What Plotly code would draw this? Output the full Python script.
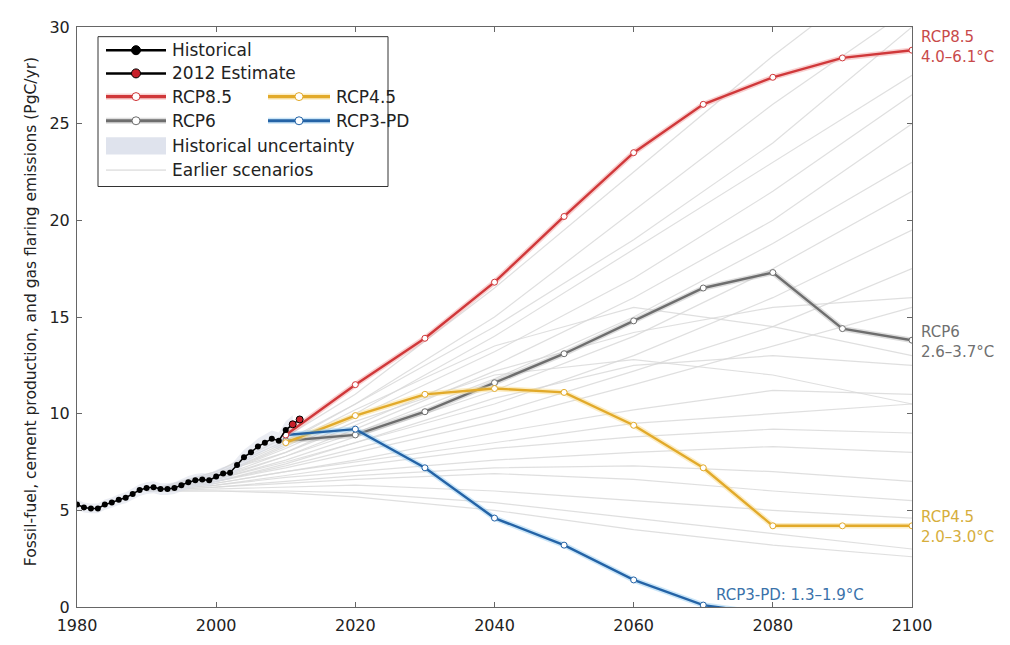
import plotly.graph_objects as go

# ---------------- data ----------------
hist_years = list(range(1980, 2012))
hist_values = [5.30, 5.15, 5.10, 5.10, 5.30, 5.40, 5.55, 5.65, 5.85, 6.05,
               6.15, 6.20, 6.10, 6.10, 6.15, 6.30, 6.45, 6.55, 6.60, 6.55,
               6.75, 6.90, 6.95, 7.35, 7.75, 8.00, 8.30, 8.50, 8.70, 8.60,
               9.15, 9.45]
est_years = [2011, 2012]
est_values = [9.45, 9.70]
hist_uncertainty_pct = 5.0

rcp_years = [2010, 2020, 2030, 2040, 2050, 2060, 2070, 2080, 2090, 2100]
rcp85 = [8.9, 11.5, 13.9, 16.8, 20.2, 23.5, 26.0, 27.4, 28.4, 28.8]
rcp6 = [8.6, 8.9, 10.1, 11.6, 13.1, 14.8, 16.5, 17.3, 14.4, 13.8]
rcp45 = [8.5, 9.9, 11.0, 11.3, 11.1, 9.4, 7.2, 4.2, 4.2, 4.2]
rcp3pd = [8.9, 9.2, 7.2, 4.6, 3.2, 1.4, 0.1, -0.4, -0.7, -0.9]

earlier_years = [1990, 2000, 2010, 2020, 2040, 2060, 2080, 2100]
earlier_scenarios = [
    [6.0, 7.0, 8.6, 10.5, 15.0, 20.5, 26.0, 31.0],
    [6.0, 7.0, 8.8, 11.0, 16.5, 22.5, 28.5, 34.0],
    [6.0, 6.8, 8.3, 10.0, 14.0, 18.5, 23.0, 27.5],
    [6.0, 6.8, 8.2, 9.8, 13.2, 17.0, 21.5, 26.5],
    [6.0, 6.9, 8.0, 9.4, 12.5, 16.0, 20.0, 25.0],
    [6.0, 6.7, 7.8, 9.0, 11.8, 15.0, 18.8, 23.0],
    [6.0, 6.6, 7.6, 8.8, 11.2, 14.0, 17.5, 21.5],
    [6.0, 6.6, 7.5, 8.5, 10.5, 13.0, 16.0, 19.5],
    [6.0, 6.5, 7.3, 8.2, 10.0, 12.2, 14.5, 17.5],
    [6.0, 6.5, 7.2, 8.0, 9.6, 11.5, 13.5, 15.5],
    [6.0, 6.5, 7.4, 8.5, 10.8, 12.5, 13.0, 12.5],
    [6.0, 6.4, 7.0, 7.6, 9.0, 10.2, 11.2, 11.0],
    [6.0, 6.4, 7.0, 7.5, 8.5, 9.5, 10.0, 10.5],
    [6.0, 6.3, 6.8, 7.3, 8.2, 8.8, 9.2, 9.0],
    [6.0, 6.3, 6.7, 7.0, 7.6, 8.0, 8.3, 8.0],
    [6.0, 6.2, 6.5, 6.8, 7.2, 7.3, 7.0, 6.5],
    [6.0, 6.2, 6.4, 6.6, 6.9, 6.6, 6.0, 5.5],
    [6.0, 6.1, 6.2, 6.3, 6.0, 5.5, 5.0, 4.6],
    [6.0, 6.0, 6.0, 5.9, 5.4, 4.6, 3.8, 3.0],
    [6.0, 6.0, 5.9, 5.7, 5.0, 4.0, 3.2, 2.6],
    [6.0, 6.6, 7.8, 9.2, 12.2, 14.2, 15.5, 16.0],
    [6.0, 6.7, 8.0, 9.6, 12.0, 12.8, 12.0, 10.5],
    [6.0, 6.8, 8.4, 10.2, 13.5, 15.5, 14.5, 13.0],
    [6.0, 6.9, 8.5, 10.5, 14.5, 19.0, 24.0, 30.0],
]

x_ticks = [1980, 2000, 2020, 2040, 2060, 2080, 2100]
y_ticks = [0, 5, 10, 15, 20, 25, 30]

# ---------------- styling ----------------
RED = "#d0383a"
GRAY = "#6e6e6e"
YEL = "#e2aa2a"
BLUE = "#2463a6"
HALO = {RED: "rgba(240,150,150,0.45)", GRAY: "rgba(180,180,180,0.45)",
        YEL: "rgba(250,220,140,0.5)", BLUE: "rgba(140,200,240,0.45)"}
FONT = "DejaVu Sans"

# target plot-area edges in output pixels (used for placing legend / labels)
L, R, T, B = 77, 912, 18, 618
# figure size (page body adds an ~8px offset)
W, H = 1002, 637
ML, MR, MT, MB = 69, W - 904, 10, H - 610


def px(xp):
    return (xp - L) / (R - L)


def py(yp):
    return (B - yp) / (B - T)


fig = go.Figure()

# earlier scenarios
for vals in earlier_scenarios:
    fig.add_trace(go.Scatter(x=earlier_years, y=vals, mode="lines",
                             line=dict(color="rgba(215,215,215,0.8)", width=1.2),
                             hoverinfo="skip", showlegend=False))

# historical uncertainty band
lo = [v * (1 - hist_uncertainty_pct / 100) for v in hist_values]
hi = [v * (1 + hist_uncertainty_pct / 100) for v in hist_values]
fig.add_trace(go.Scatter(x=hist_years + hist_years[::-1], y=hi + lo[::-1],
                         fill="toself", fillcolor="rgba(215,220,232,0.5)",
                         line=dict(width=0), hoverinfo="skip", showlegend=False))

# RCPs
for vals, col in [(rcp6, GRAY), (rcp45, YEL), (rcp3pd, BLUE), (rcp85, RED)]:
    fig.add_trace(go.Scatter(x=rcp_years, y=vals, mode="lines",
                             line=dict(color=HALO[col], width=5.5),
                             hoverinfo="skip", showlegend=False))
    fig.add_trace(go.Scatter(x=rcp_years, y=vals, mode="lines+markers",
                             line=dict(color=col, width=2.4),
                             marker=dict(size=6, color="white",
                                         line=dict(color=col, width=1)),
                             showlegend=False))

# historical
fig.add_trace(go.Scatter(x=hist_years, y=hist_values, mode="lines+markers",
                         line=dict(color="black", width=1.5),
                         marker=dict(size=6, color="black"), showlegend=False))
fig.add_trace(go.Scatter(x=est_years, y=est_values, mode="lines+markers",
                         line=dict(color="black", width=1.5),
                         marker=dict(size=7, color="#c8202a",
                                     line=dict(color="black", width=1)),
                         showlegend=False))

# ---------------- manual legend (overlay axes in plot-fraction units) ----------------
shapes = []
annotations = []
shapes.append(dict(type="rect", xref="paper", yref="paper",
                   x0=px(98), x1=px(388), y0=py(183), y1=py(28),
                   line=dict(color="#333", width=1), fillcolor="white", layer="below"))


def leg_line(x0, x1, yp, lcol, lw, mcol, medge, msize, halo=None):
    xs = [px(x0), px((x0 + x1) / 2), px(x1)]
    if halo:
        fig.add_trace(go.Scatter(x=xs, y=[py(yp)] * 3, xaxis="x2", yaxis="y2",
                                 mode="lines", line=dict(color=halo, width=lw + 3),
                                 hoverinfo="skip", showlegend=False))
    fig.add_trace(go.Scatter(x=xs, y=[py(yp)] * 3, xaxis="x2", yaxis="y2",
                             mode="lines", line=dict(color=lcol, width=lw),
                             hoverinfo="skip", showlegend=False))
    if mcol is not None:
        fig.add_trace(go.Scatter(x=[px((x0 + x1) / 2)], y=[py(yp)],
                                 xaxis="x2", yaxis="y2", mode="markers",
                                 marker=dict(size=msize, color=mcol,
                                             line=dict(color=medge, width=1)),
                                 hoverinfo="skip", showlegend=False))


def leg_text(xp, yp, text):
    annotations.append(dict(xref="paper", yref="paper", x=px(xp), y=py(yp),
                            text=text, showarrow=False, xanchor="left",
                            yanchor="middle",
                            font=dict(family=FONT, size=17, color="#222")))


leg_line(106, 166, 42, "black", 2.5, "black", "black", 9)
leg_text(170, 42, "Historical")
leg_line(106, 166, 66, "black", 2.5, "#c8202a", "black", 9)
leg_text(170, 66, "2012 Estimate")
leg_line(106, 166, 90, RED, 3.2, "white", RED, 8, HALO[RED])
leg_text(170, 90, "RCP8.5")
leg_line(268, 330, 90, YEL, 3.2, "white", YEL, 8, HALO[YEL])
leg_text(334, 90, "RCP4.5")
leg_line(106, 166, 115, GRAY, 3.2, "white", GRAY, 8, HALO[GRAY])
leg_text(170, 115, "RCP6")
leg_line(268, 330, 115, BLUE, 3.2, "white", BLUE, 8, HALO[BLUE])
leg_text(334, 115, "RCP3-PD")
shapes.append(dict(type="rect", xref="paper", yref="paper",
                   x0=px(106), x1=px(166), y0=py(150), y1=py(132),
                   line=dict(width=0), fillcolor="rgba(215,220,232,0.8)", layer="below"))
leg_text(170, 141, "Historical uncertainty")
leg_line(106, 166, 166, "rgba(205,205,205,0.9)", 1, None, None, 0)
leg_text(170, 166, "Earlier scenarios")

# right-side labels
lab_font = dict(family=FONT, size=15)
annotations.append(dict(xref="paper", yref="paper", x=px(919), y=py(17),
                        text="RCP8.5<br>4.0–6.1°C", showarrow=False,
                        xanchor="left", yanchor="top", align="left",
                        font=dict(color="#c84a4a", **lab_font)))
annotations.append(dict(xref="paper", yref="paper", x=px(919), y=py(322),
                        text="RCP6<br>2.6–3.7°C", showarrow=False,
                        xanchor="left", yanchor="top", align="left",
                        font=dict(color="#707070", **lab_font)))
annotations.append(dict(xref="paper", yref="paper", x=px(919), y=py(514),
                        text="RCP4.5<br>2.0–3.0°C", showarrow=False,
                        xanchor="left", yanchor="top", align="left",
                        font=dict(color="#d6ae3c", **lab_font)))
annotations.append(dict(xref="paper", yref="paper", x=px(714), y=py(606),
                        text="RCP3-PD: 1.3–1.9°C", showarrow=False,
                        xanchor="left", yanchor="middle",
                        font=dict(color="#3a72aa", **lab_font)))
annotations.append(dict(xref="paper", yref="paper", x=px(20), y=py(313),
                        text="Fossil-fuel, cement production, and gas flaring emissions (PgC/yr)",
                        showarrow=False, textangle=-90,
                        font=dict(family=FONT, size=15.5, color="#222")))

axis_common = dict(showline=True, linecolor="#666", linewidth=1, mirror="ticks",
                   ticks="inside", ticklen=5, tickcolor="#666", showgrid=False,
                   zeroline=False, tickfont=dict(family=FONT, size=16, color="#222"))

fig.update_layout(
    width=W, height=H,
    margin=dict(l=ML, r=MR, t=MT, b=MB),
    paper_bgcolor="white", plot_bgcolor="white",
    xaxis=dict(range=[1980, 2100], tickvals=x_ticks, ticklabelstandoff=4, **axis_common),
    yaxis=dict(range=[0, 30], tickvals=y_ticks, ticklabelstandoff=3, **axis_common),
    xaxis2=dict(overlaying="x", range=[0, 1], visible=False, anchor="y2"),
    yaxis2=dict(overlaying="y", range=[0, 1], visible=False, anchor="x2"),
    shapes=shapes, annotations=annotations, showlegend=False,
)

fig.write_html("out.html")
